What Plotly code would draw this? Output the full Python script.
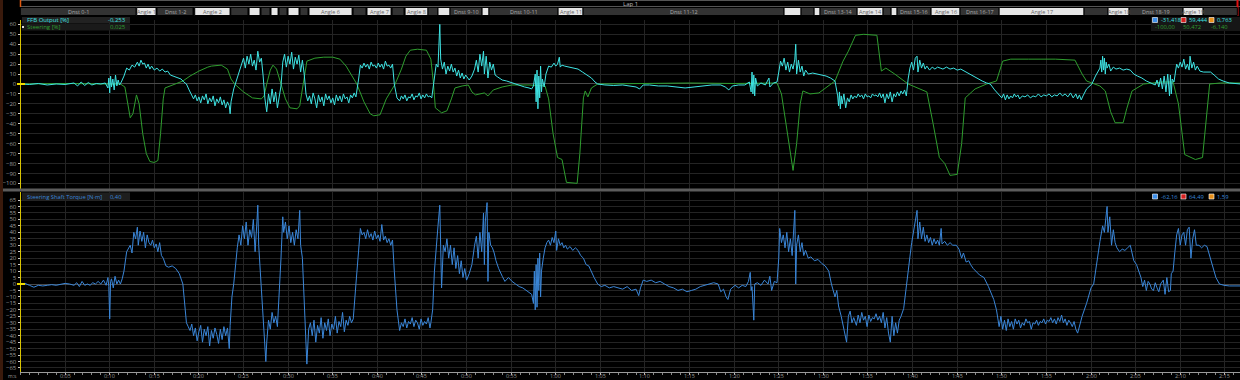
import plotly.graph_objects as go

W, H = 1240, 380

# ---------------- data ----------------
steer_t = [0, 5, 10, 11.2, 11.7, 12.0, 12.3, 12.6, 13.0, 13.3, 13.7, 14.1, 14.5, 15.0, 15.4, 15.7, 16.0, 16.2, 17.0, 18.2,
           19.0, 20.0, 21.0, 21.4, 22.5, 23.2, 23.6, 24.0, 25.0, 26.0, 27.0, 27.3, 27.6, 28.0, 28.3, 28.7, 29.2, 29.7, 30.2,
           31.0, 31.3, 31.7, 32.1, 33.0, 34.0, 35.0, 35.8, 36.5, 37.0, 37.7, 38.5, 39.2, 39.6, 40.3, 41.0, 42.0, 42.7, 43.2,
           43.7, 44.5, 45.5, 46.0, 46.3, 46.5, 47.2, 47.8, 48.3, 48.7, 49.5, 50.2, 50.6, 51.0, 52.0, 52.4, 53.0, 54.0, 55.1,
           57.0, 58.8, 59.2, 59.7, 60.2, 60.7, 61.2, 62.4, 62.7, 63.1, 63.3, 63.6, 64.0, 64.7, 70, 75, 80, 84.8, 85.3, 85.8,
           86.3, 86.6, 87.0, 87.4, 87.7, 88.5, 89.5, 90.2, 91.3, 92.2, 92.8, 93.6, 94.5, 96.0, 96.5, 97.0, 98.0, 99.5, 101.6,
           102.3, 103.0, 103.6, 104.2, 105.0, 105.5, 105.9, 107.0, 108.3, 109.4, 110.1, 111.0, 113.0, 116.0, 118.2, 119.0,
           119.5, 121.0, 121.6, 122.2, 122.7, 123.6, 124.0, 124.6, 125.9, 128.0, 129.2, 129.8, 130.5, 131.7, 132.5, 133.0,
           133.3, 134.5, 136.8]
steer_v = [0, 0.5, 0, 0, -3, -20, -34, -30, -11, -20, -50, -70, -78, -79, -77, -50, -15, -4, -1, 3,
           8, 13, 17, 18, 19, 15, 5, 0, -8, -14, -15, -12, 0, 14, 19, 15, 0, -15, -24,
           -25, -22, 0, 23, 26, 27, 27, 25, 18, 10, 0, -18, -30, -32, -31, -15, 0, 15, 28,
           34, 35, 34, 25, 0, -24, -29, -27, -15, -4, -2, -1, -8, -11, -9, -12, -6, -3, -1,
           -1, -2, -15, -50, -74, -76, -99, -100, -70, -14, -7, -13, -4, 0, 0.5, 1, 0.5, 1, -10, -40,
           -71, -87, -60, -20, -7, -10, -9, -4, 3, 23, 33, 49, 50, 49, 13, 16, 10, 0, -8,
           -40, -74, -80, -92, -91, -60, -14, -5, 0, 3, 23, 25, 25, 25, 24, 10,
           3, -2, -7, -28, -39, -39, -25, -7, 0, 2, 2, -20, -71, -76, -74, -30,
           0, 1, 1]

ffb_t = [0, 1, 2, 3, 4, 5, 6, 6.4, 6.8, 7.2, 7.6, 8.0, 8.5, 9.0, 9.5,
         9.8, 9.9, 10.0, 10.1, 10.2, 10.35, 10.5, 10.65, 10.8, 10.95, 11.1, 11.3,
         11.6, 11.9, 12.2, 12.5, 12.8, 13.1, 13.3, 13.5, 13.7, 13.9, 14.1, 14.3, 14.5, 14.7, 15.0, 15.3, 15.6, 15.9, 16.2,
         16.5, 16.8, 17.1, 17.5, 18.0, 18.3, 18.6, 18.9, 19.2, 19.4, 19.6, 19.8, 20.0, 20.2, 20.4, 20.6, 20.8, 21.0, 21.2,
         21.4, 21.6, 21.8, 22.0, 22.2, 22.4, 22.6, 22.8, 23.0, 23.2, 23.4, 23.5, 23.6,
         23.9, 24.2, 24.5, 24.8, 25.0, 25.2, 25.4, 25.6, 25.8, 26.0, 26.2, 26.4, 26.6, 26.8, 27.0, 27.2,
         27.4, 27.6, 27.8, 28.0, 28.2, 28.4, 28.6, 28.8, 29.0, 29.2,
         29.4, 29.6, 29.8, 30.0, 30.2, 30.4, 30.6, 30.8, 31.0, 31.2, 31.4, 31.6, 31.8,
         32.0, 32.2, 32.4, 32.6, 32.8, 33.0, 33.2, 33.4, 33.6, 33.8, 34.0, 34.2, 34.4, 34.6, 34.8, 35.0, 35.2, 35.4, 35.6,
         35.8, 36.0, 36.2, 36.4, 36.6, 36.8, 37.0, 37.2, 37.4, 37.6,
         37.9, 38.1, 38.3, 38.5, 38.7, 38.9, 39.1, 39.3, 39.5, 39.7, 39.9, 40.1, 40.3, 40.5, 40.7, 40.9, 41.1, 41.3, 41.5, 41.7,
         41.9, 42.2, 42.5, 42.7, 42.9, 43.1, 43.3, 43.5, 43.7, 43.9, 44.1, 44.3, 44.5, 44.7, 44.9, 45.1, 45.3, 45.5, 45.7,
         45.9, 46.1,
         46.4, 46.6, 46.8, 47.0, 47.1, 47.3, 47.5, 47.7, 47.9, 48.1, 48.3, 48.5, 48.7, 48.9, 49.1, 49.3, 49.5, 49.7, 49.9,
         50.1, 50.3,
         50.6, 50.9, 51.1, 51.3, 51.5, 51.7, 51.9, 52.0, 52.2, 52.4, 52.6, 52.8, 53.0, 53.2, 53.5, 54.0, 54.5, 55.1, 55.8,
         56.5, 57.0, 57.3,
         57.5, 57.7, 57.8, 57.9, 58.0, 58.1, 58.2, 58.3, 58.4, 58.5, 58.7, 58.9, 59.2, 59.5, 59.8, 60.0, 60.2, 60.4, 60.5,
         60.7, 61.0, 61.5, 62.0, 62.5, 63.0, 63.5, 64.0, 64.4, 64.7,
         65.5, 66.5, 67.5, 68.5, 69.0, 69.4, 69.8, 70.5, 71.5, 72.5, 73.5, 74.5, 75.5, 76.5, 77.5, 78.5, 79.0, 79.4, 79.8,
         80.5, 81.2, 81.7,
         81.9, 82.0, 82.1, 82.2, 82.3, 82.4, 82.6, 83.0, 83.5, 83.9, 84.0, 84.4, 84.8,
         85.0, 85.2, 85.4, 85.6, 85.8, 86.0, 86.2, 86.4, 86.6, 86.8, 86.9, 87.0, 87.2, 87.4, 87.6, 87.8, 88.0, 88.3, 88.8,
         89.3, 89.8, 90.3, 90.8, 91.3,
         91.6, 91.7, 91.8, 91.9, 92.0, 92.1, 92.3, 92.5, 92.7, 92.9, 93.1, 93.3, 93.5, 93.7, 93.9, 94.1, 94.3, 94.5, 94.7,
         94.9, 95.1, 95.3, 95.5, 95.7, 95.9, 96.1, 96.3, 96.5, 96.7, 96.9, 97.1, 97.3, 97.5, 97.7, 97.9, 98.1, 98.3, 98.5,
         98.7, 98.9, 99.1, 99.3,
         99.5, 99.7, 99.9, 100.1, 100.3, 100.5, 100.6, 100.8, 101.0, 101.2, 101.4, 101.6, 101.9, 102.2, 102.5, 102.8, 103.1,
         103.4, 103.8, 104.2, 104.6, 105.0, 105.4, 105.8, 106.3, 106.8, 107.3, 107.8, 108.3, 108.7, 109.2, 109.6, 109.8,
         110.0, 110.2, 110.4, 110.6, 110.8, 111.0, 111.2, 111.4, 111.6, 111.8, 112.0, 112.3, 112.6, 112.9, 113.2, 113.5,
         113.8, 114.1, 114.4, 114.7, 115.0, 115.3, 115.6, 115.9, 116.2, 116.5, 116.8, 117.1, 117.4, 117.7, 118.0, 118.3,
         118.5, 118.7, 118.9, 119.1,
         119.5, 120.1, 120.5, 121.0, 121.1, 121.2, 121.3, 121.4, 121.5, 121.6, 121.7, 121.8, 122.0, 122.2, 122.5, 122.8,
         123.2, 123.6, 124.0, 124.4, 124.8, 125.2, 125.7, 126.2, 126.8, 127.2,
         127.4, 127.6, 127.8, 128.0, 128.2, 128.4, 128.6, 128.8, 128.9, 129.0, 129.1, 129.3,
         129.6, 129.8, 130.0, 130.2, 130.4, 130.6, 130.8, 131.0, 131.1, 131.3, 131.5, 131.7, 131.9, 132.2, 132.6, 133.0,
         133.4, 133.8, 134.3, 134.8, 135.5, 136.8]
ffb_v = [0, -0.5, 0.5, -1, 0, -0.5, 1, -2, 2, -1.5, 1.5, -1, 0.5, 0, 1,
         -4, 6, -9, 8, -3, 5, -6, 9, -2, 4, -1, 2,
         8, 16, 14, 19, 17, 22, 18, 24, 20, 21, 16, 20, 15, 18, 14, 16, 13, 15, 12,
         13, 9, 8, 7, 5, 2, 0, -6, -12, -15, -11, -17, -13, -19, -12, -16, -10, -20, -14,
         -18, -12, -22, -15, -19, -13, -21, -16, -24, -18, -22, -30, -18,
         -5, 3, 12, 19, 26, 16, 28, 20, 30, 18, 24, 14, 33, 22, 26, 8,
         -15, -28, -10, -20, -5, -18, -8, -24, -12, -2,
         22, 30, 17, 28, 20, 32, 15, 27, 20, 29, 12, 24, 10,
         -10, -17, -12, -20, -9, -15, -24, -11, -18, -13, -22, -10, -16, -12, -19, -14, -21, -11, -17,
         -12, -18, -10, -15, -13, -19, -11, -14, -9, -13,
         5, 19, 16, 21, 17, 20, 15, 22, 18, 19, 16, 21, 17, 20, 15, 23, 18, 19, 16, 20,
         0, -14, -17, -12, -15, -11, -17, -13, -14, -10, -16, -12, -13, -9, -15, -11, -14, -10, -13,
         -12, -14,
         5, 20, 17, 60, 25, 15, 22, 10, 18, 13, 20, 12, 16, 8, 14, 6, 11, 5, 9,
         7, 4,
         8, 15, 24, 12, 30, 18, 33, 10, 28, 6, 22, 14, 20, 9, 7, 4, 3, 1, -1,
         -3, -4, -5,
         -2, 10, -18, 14, -25, 8, -14, 18, -8, 5, -3, 10, 18, 17, 21, 18, 20, 27, 17,
         19, 18, 17, 16, 15, 12, 9, 6, 2, 0,
         -1, -1.5, -1, -2, -3, -5, -1, -1, -2, -2, -3, -4, -3, -2, -1, -1, -3, -6, -2,
         -1, -1, 2,
         -8, 12, -10, 9, -12, 6, -2, 1, -1, 6, -3, 1, 2,
         12, 23, 18, 26, 14, 22, 12, 20, 15, 25, 40, 10, 24, 12, 18, 8, 14, 10, 11,
         10, 9, 8, 6, 3,
         -12, -22, -8, -25, -12, -20, -10, -24, -14, -18, -11, -15, -12, -14, -10, -13, -11, -15, -10,
         -13, -12, -14, -10, -12, -11, -13, -9, -14, -10, -19, -10, -15, -8, -18, -10, -13, -8, -12,
         -7, -10, -6, -12,
         5, 16, 22, 14, 26, 28, 12, 24, 16, 21, 15, 18, 14, 17, 15, 17, 16,
         15, 17, 15, 16, 14, 15, 13, 10, 8, 5, 3, 1, 0, -6, -10, -12,
         -14, -10, -16, -11, -15, -12, -14, -10, -13, -11, -15, -12, -13, -11, -14, -12,
         -13, -10, -13, -11, -12, -10, -13, -11, -12, -9, -12, -10, -13, -9, -14, -10,
         -15, -11, -16, -12,
         -5, 0, 8, 16, 24, 12, 28, 14, 26, 10, 22, 16, 20, 13, 17, 15,
         16, 14, 15, 14, 10, 8, 6, 3, 1, -1,
         4, -3, 6, -5, 8, -8, 10, -12, 9, -10, 5, 2,
         20, 16, 22, 17, 25, 15, 20, 14, 28, 16, 22, 14, 18, 13, 12, 12,
         12, 9, 5, 3, 1, 0]

torque_t = [0, 0.5, 1.0, 1.5, 2.0, 2.5, 3.0, 3.5, 4.0, 4.5, 5.0, 5.5, 6.0, 6.3, 6.6, 6.9, 7.2, 7.5, 7.8, 8.1, 8.4, 8.7,
            9.0, 9.3, 9.6, 9.8, 9.9, 10.0, 10.1, 10.2, 10.4, 10.6, 10.8, 11.0, 11.2, 11.4, 11.6, 11.9, 12.1, 12.3, 12.5,
            12.7, 12.9, 13.1, 13.2, 13.4, 13.6, 13.8, 14.0, 14.2, 14.4, 14.6, 14.8, 15.0, 15.2, 15.4, 15.6, 15.8, 16.0,
            16.3, 16.6, 17.0, 17.4, 17.8, 18.2, 18.4, 18.6, 18.8, 19.0, 19.2, 19.4, 19.6, 19.8, 20.0, 20.2, 20.4, 20.6,
            20.8, 21.0, 21.2, 21.4, 21.6, 21.8, 22.0, 22.2, 22.4, 22.6, 22.8, 23.0, 23.2, 23.4, 23.5,
            23.7, 23.9, 24.1, 24.3, 24.5, 24.7, 24.9, 25.1, 25.3, 25.5, 25.7, 25.9, 26.1, 26.3, 26.5, 26.6, 26.7, 26.9,
            27.1, 27.3, 27.5, 27.6, 27.8, 28.0, 28.2, 28.4, 28.6, 28.8, 29.0, 29.2, 29.4, 29.5, 29.7, 29.9, 30.1, 30.3,
            30.5, 30.7, 30.9, 31.1, 31.3, 31.4, 31.6, 31.8, 32.0, 32.1, 32.3, 32.5, 32.7, 32.9, 33.1, 33.3, 33.5, 33.7,
            33.9, 34.1, 34.3, 34.5, 34.7, 34.9, 35.1, 35.3, 35.5, 35.7, 35.9, 36.1, 36.3, 36.5, 36.7, 36.9, 37.1, 37.3,
            37.6, 37.9, 38.1, 38.3, 38.5, 38.7, 38.9, 39.1, 39.3, 39.5, 39.7, 39.9, 40.1, 40.3, 40.5, 40.7, 40.9, 41.1,
            41.3, 41.5, 41.7, 41.9, 42.2, 42.5, 42.7, 42.9, 43.1, 43.3, 43.5, 43.7, 43.9, 44.1, 44.3, 44.5, 44.7, 44.9,
            45.1, 45.3, 45.5, 45.7, 45.9, 46.0,
            46.2, 46.4, 46.6, 46.8, 47.0, 47.1, 47.2, 47.4, 47.6, 47.8, 48.0, 48.2, 48.4, 48.6, 48.8, 49.0, 49.2, 49.4,
            49.6, 49.8, 50.0, 50.3, 50.6, 50.9, 51.1, 51.3, 51.5, 51.7, 51.9, 52.0, 52.1, 52.3, 52.4, 52.5, 52.7, 52.9,
            53.1, 53.3, 53.6, 54.0, 54.3, 54.7, 55.1, 55.5, 55.9, 56.3, 56.7, 57.0, 57.3,
            57.5, 57.6, 57.7, 57.8, 57.9, 58.0, 58.1, 58.2, 58.3, 58.4, 58.6, 58.8, 59.0, 59.2, 59.4, 59.6, 59.8, 60.0,
            60.1, 60.3, 60.5, 60.7, 60.9, 61.1, 61.3, 61.6, 61.9, 62.2, 62.5, 62.8, 63.1, 63.4, 63.7, 64.0, 64.3, 64.7,
            65.1, 65.5, 66.0, 66.5, 67.0, 67.5, 68.0, 68.5, 69.0, 69.3, 69.5, 69.8, 70.2, 70.7, 71.2, 71.7, 72.2, 72.7,
            73.2, 73.7, 74.2, 74.7, 75.2, 75.7, 76.2, 76.7, 77.2, 77.7, 78.2, 78.5, 78.8, 79.1, 79.3, 79.6, 80.1, 80.5,
            80.9, 81.3, 81.6, 81.8, 81.9, 82.0, 82.2, 82.3, 82.6, 83.0, 83.4, 83.8, 84.0, 84.2, 84.5, 84.8,
            85.0, 85.1, 85.3, 85.5, 85.7, 85.9, 86.1, 86.3, 86.5, 86.7, 86.8, 86.9, 87.0, 87.2, 87.4, 87.6, 87.8, 88.0,
            88.3, 88.6, 89.0, 89.4, 89.8, 90.2, 90.6, 90.9, 91.3,
            91.5, 91.7, 92.0, 92.3, 92.6, 92.8, 93.0, 93.2, 93.4, 93.7, 93.9, 94.1, 94.3, 94.5, 94.7, 94.9, 95.1, 95.3,
            95.5, 95.7, 95.9, 96.1, 96.3, 96.5, 96.7, 96.9, 97.1, 97.3, 97.5, 97.7, 97.9, 98.1, 98.3, 98.5, 98.7, 99.0,
            99.3, 99.5, 99.7, 99.9, 100.1, 100.3, 100.5, 100.6, 100.8, 101.0, 101.2, 101.4, 101.6, 101.8, 102.0, 102.2,
            102.4, 102.6, 102.8, 103.0, 103.2, 103.3, 103.6, 103.9, 104.2, 104.5, 104.9, 105.2, 105.5, 105.7, 106.0,
            106.3, 106.5, 106.8, 107.1, 107.5, 108.0, 108.5, 109.1, 109.4, 109.7, 109.9, 110.1, 110.3, 110.5, 110.7,
            110.9, 111.1, 111.3, 111.5, 111.7, 111.9, 112.1, 112.3, 112.5, 112.7, 112.9, 113.1, 113.3, 113.5, 113.7,
            113.9, 114.1, 114.3, 114.5, 114.7, 114.9, 115.1, 115.3, 115.5, 115.7, 115.9, 116.1, 116.3, 116.5, 116.7,
            116.9, 117.1, 117.3, 117.5, 117.7, 117.9, 118.1, 118.3, 118.5, 118.7, 119.0, 119.5, 120.0, 120.3, 120.6,
            121.0, 121.3, 121.5, 121.8, 121.9, 122.1, 122.3, 122.5, 122.7, 122.9, 123.2, 123.5, 123.8, 124.1, 124.4,
            124.6, 124.8, 125.1, 125.4, 125.6, 125.8, 126.0, 126.2, 126.4, 126.6, 126.8, 127.0, 127.2, 127.4, 127.6,
            127.8, 128.1, 128.3, 128.5, 128.7, 128.9, 129.0, 129.2, 129.4, 129.6, 129.8, 130.0, 130.2, 130.4, 130.6,
            130.8, 131.0, 131.2, 131.4, 131.6, 131.8, 132.1, 132.4, 132.7, 133.0, 133.2, 133.4, 133.7, 134.0, 134.4,
            134.9, 135.5, 136.8]
torque_v = [0, 0.5, -1, -2.5, -1, -1.5, -1, -0.5, -1, 0, 0.5, 0, -1, 1, -2, 2, -1, 0, -1, 1, 0, 2,
            0, 3, -1, 5, -2, -27, 2, 4, -3, 6, 0, 3, 0, 4, 10, 25, 28, 30, 24,
            40, 35, 44, 30, 41, 33, 40, 28, 38, 32, 30, 34, 28, 31, 25, 32, 22, 20,
            14, 13, 14, 12, 8, 0, -15, -30, -33, -36, -31, -40, -34, -44, -37, -32, -45, -35,
            -40, -33, -48, -36, -42, -34, -39, -46, -35, -43, -33, -40, -34, -50, -32,
            -10, 0, 15, 28, 38, 30, 45, 35, 48, 30, 42, 36, 50, 25, 48, 61, 30, 5,
            -20, -38, -60, -45, -28, -35, -22, -30, -25, -33, -10, 20, 52, 40, 48, 35, 45, 32,
            40, 30, 42, 35, 57, 30, 20, -10, -45, -62, -35, -30, -40, -28, -45, -32, -38, -26,
            -42, -30, -36, -27, -40, -31, -35, -25, -38, -29, -33, -22, -37, -28, -32, -25, -30, -27,
            0, 30, 43, 38, 40, 35, 42, 36, 39, 34, 41, 35, 38, 33, 46, 34, 37, 32,
            35, 30, 34, 10, -20, -36, -30, -33, -27, -34, -29, -31, -26, -33, -28, -30, -35, -27,
            -32, -29, -31, -26, -34, -30,
            -20, 10, 30, 45, 61, 35, -3, 30, 25, 35, 20, 30, 15, 28, 12, 22, 8, 18,
            5, 12, 3, 8, 15, 30, 37, 20, 40, 25, 55, 15, 48, 63, 2, 40, 30, 28,
            24, 18, 12, 6, 2, 5, 2, 0, -2, -3, -5, -6, -8,
            -15, 10, -20, 15, -18, 20, -5, 24, -10, 10, 20, 28, 32, 34, 30, 36, 32, 41,
            26, 35, 30, 32, 28, 30, 27, 29, 26, 28, 26, 22, 20, 15, 14, 9, 5, 0,
            -2, -1, -3, -2, -3, -4, -2, -5, -4, -9, -3, 3, 2, 3, 1, 2, 0, -2,
            -3, -5, -4, -6, -5, -4, -2, -1, 0, 1, 0, -6, -4, -10, -12, -4, -1, -3,
            -1, -2, 2, 9, -5, -2, -28, 0, 1, -1, 3, 0, 6, -5, 2, 1,
            20, 43, 32, 38, 28, 40, 25, 35, 22, 45, 57, 0, 30, 38, 25, 32, 22, 26,
            20, 21, 18, 19, 16, 14, 10, 0, -10,
            -5, -17, -25, -35, -45, -25, -21, -30, -26, -32, -24, -30, -22, -28, -25, -33, -24, -29,
            -26, -27, -23, -28, -25, -30, -22, -34, -26, -38, -45, -25, -40, -30, -38, -28, -25, -19,
            0, 10, 21, 32, 40, 50, 57, 35, 48, 35, 44, 33, 38, 32, 36, 30,
            35, 31, 34, 30, 43, 31, 33, 30, 32, 30, 30, 27, 20, 24, 17,
            18, 15, 12, 10, 7, 5, -2, -12, -20, -33, -25, -35, -28, -36, -27,
            -33, -29, -35, -27, -31, -28, -34, -30, -32, -27, -30, -29, -35, -30, -31,
            -28, -32, -29, -30, -27, -31, -28, -29, -26, -30, -27, -31, -26, -29, -24,
            -30, -27, -32, -28, -30, -33, -29, -35, -38, -33, -25, -15, -3, 0, 15,
            33, 45, 40, 60, 40, 52, 30, 42, 32, 28, 25, 27, 26, 28, 30,
            24, 18, 15, 8, 5, -2, 3, -5, 2, 0, -4, -5, 1, -3, -6,
            0, 3, -8, 5, -6, -5, 8, 10, 25, 38, 43, 30, 38, 40, 30,
            42, 44, 20, 35, 42, 30, 30, 28, 30, 29, 24, 18, 12, 5, 0,
            -1, -1.5, -1.5]

# lap segments (time in s)
seg_start = [0.0, 13.03, 15.30, 19.53, 23.57, 25.62, 26.96, 28.08, 28.98, 29.99, 31.33, 32.34, 37.28, 38.84, 41.65,
             43.11, 45.68, 46.80, 48.15, 51.74, 52.52, 60.26, 63.06, 85.59, 87.50, 88.96, 89.63, 93.78, 96.69, 97.59,
             98.26, 102.07, 105.32, 109.70, 119.22, 121.91, 124.27, 130.32, 132.57]
seg_end = [12.95, 15.19, 19.34, 23.49, 25.50, 26.85, 27.97, 28.87, 29.88, 31.22, 32.23, 37.17, 38.73, 41.54, 42.99,
           45.68, 46.80, 48.15, 51.74, 52.52, 60.26, 63.06, 85.59, 87.50, 88.96, 89.63, 93.78, 96.69, 97.59, 98.26,
           102.07, 105.32, 109.70, 119.22, 121.91, 124.27, 130.32, 132.57, 136.4]
seg_kind = ["S", "C", "S", "C", "S", "C", "S", "C", "S", "C", "S", "C", "S", "C", "S",
            "C", "S", "C", "S", "C", "S", "C", "S", "C", "S", "C", "S", "C", "S", "C",
            "S", "C", "S", "C", "S", "C", "S", "C", "S"]
seg_label = ["Dnst 0-1", "Angle 1", "Dnst 1-2", "Angle 2", "", "", "", "", "", "", "", "Angle 6", "", "Angle 7", "",
             "Angle 8", "", "", "Dnst 9-10", "", "Dnst 10-11", "Angle 11", "Dnst 11-12", "", "", "", "Dnst 13-14",
             "Angle 14", "", "", "Dnst 15-16", "Angle 16", "Dnst 16-17", "Angle 17", "", "Angle 18", "Dnst 18-19",
             "Angle 19", ""]

x_tick_vals = [5, 10, 15, 20, 25, 30, 35, 40, 45, 50, 55, 60, 65, 70, 75, 80, 85, 90, 95, 100, 105, 110, 115, 120,
               125, 130, 135]
x_tick_text = ["0:05", "0:10", "0:15", "0:20", "0:25", "0:30", "0:35", "0:40", "0:45", "0:50", "0:55", "1:00",
               "1:05", "1:10", "1:15", "1:20", "1:25", "1:30", "1:35", "1:40", "1:45", "1:50", "1:55", "2:00",
               "2:05", "2:10", "2:15"]
top_ticks = [-100, -90, -80, -70, -60, -50, -40, -30, -20, -10, 0, 10, 20, 30, 40, 50, 60]
bot_ticks = [-65, -60, -55, -50, -45, -40, -35, -30, -25, -20, -15, -10, -5, 0, 5, 10, 15, 20, 25, 30, 35, 40, 45,
             50, 55, 60, 65]

# ---------------- helpers (pixel -> paper) ----------------
def px(x):
    return x / W


def py(y):
    return 1 - y / H


X0 = 20.5
FONT = "Open Sans"
CYAN = "#3fe4e4"
GREEN = "#2f9e2f"
BLUE = "#3a86d8"
GRID = "#242424"

fig = go.Figure()
fig.add_trace(go.Scatter(x=steer_t, y=steer_v, mode="lines", line=dict(color=GREEN, width=1),
                         xaxis="x2", yaxis="y", hoverinfo="skip", showlegend=False))
fig.add_trace(go.Scatter(x=ffb_t, y=ffb_v, mode="lines", line=dict(color=CYAN, width=1),
                         xaxis="x2", yaxis="y", hoverinfo="skip", showlegend=False))
fig.add_trace(go.Scatter(x=torque_t, y=torque_v, mode="lines", line=dict(color=BLUE, width=1),
                         xaxis="x", yaxis="y2", hoverinfo="skip", showlegend=False))

xr = [0, 136.7]
tickfont = dict(family=FONT, size=6, color="#9a9a9a")

fig.update_layout(
    width=W, height=H, margin=dict(l=0, r=0, t=0, b=0),
    paper_bgcolor="#000000", plot_bgcolor="#000000",
    showlegend=False,
    xaxis=dict(domain=[px(X0), 1], range=xr, anchor="y2", tickvals=x_tick_vals, showticklabels=False,
               ticks="outside", ticklen=2, tickcolor="#bbbbbb", showline=True,
               linecolor="#9a9a9a", linewidth=1, showgrid=True, gridcolor=GRID, zeroline=False,
               minor=dict(dtick=1, ticks="outside", ticklen=2, tickcolor="#888888", showgrid=False),
               automargin=False, fixedrange=True),
    xaxis2=dict(domain=[px(X0), 1], range=xr, anchor="y", tickvals=x_tick_vals, showticklabels=False,
                showgrid=True, gridcolor=GRID, zeroline=False, showline=False, ticks="", automargin=False),
    yaxis=dict(domain=[py(190), py(20)], range=[-106.7, 64.4], anchor="x2", tickvals=top_ticks,
               tickfont=tickfont, ticks="outside", ticklen=2, tickcolor="#cccccc", showline=True,
               linecolor="#d8c400", linewidth=1, showgrid=True, gridcolor=GRID, zeroline=True,
               zerolinecolor="#4a4a4a", zerolinewidth=1, automargin=False),
    yaxis2=dict(domain=[py(372), py(192)], range=[-68.1, 71.2], anchor="x", tickvals=bot_ticks,
                tickfont=tickfont, ticks="outside", ticklen=2, tickcolor="#cccccc", showline=True,
                linecolor="#d8c400", linewidth=1, showgrid=True, gridcolor=GRID, zeroline=True,
                zerolinecolor="#4a4a4a", zerolinewidth=1, automargin=False),
)

shapes = []
annotations = []

# x tick labels as text just under the axis
for tv, tt in zip(x_tick_vals, x_tick_text):
    annotations.append(dict(x=tv, y=py(376.3), xref="x", yref="paper", text=tt, showarrow=False,
                            font=dict(family=FONT, size=5.5, color="#9a9a9a"), xanchor="center",
                            yanchor="middle"))

# left brown strip
shapes.append(dict(type="rect", xref="paper", yref="paper", x0=0, x1=px(3), y0=0, y1=1,
                   fillcolor="#3a1a0c", line=dict(width=0), layer="above"))
# lap bar borders
shapes.append(dict(type="line", xref="paper", yref="paper", x0=px(20), x1=1, y0=py(0.5), y1=py(0.5),
                   line=dict(color="#555555", width=1)))
shapes.append(dict(type="line", xref="paper", yref="paper", x0=px(20), x1=1, y0=py(6.5), y1=py(6.5),
                   line=dict(color="#555555", width=1)))
shapes.append(dict(type="line", xref="paper", yref="paper", x0=px(20.5), x1=px(20.5), y0=py(0), y1=py(7),
                   line=dict(color="#e05a10", width=1.5)))
shapes.append(dict(type="line", xref="paper", yref="paper", x0=px(1237.5), x1=px(1237.5), y0=py(0), y1=py(16),
                   line=dict(color="#e01010", width=2)))
annotations.append(dict(x=px(630), y=py(3.6), xref="paper", yref="paper", text="Lap 1", showarrow=False,
                        font=dict(family=FONT, size=6, color="#bbbbbb"), xanchor="center", yanchor="middle"))

# segment bar
for s, e, k, lab in zip(seg_start, seg_end, seg_kind, seg_label):
    fill = "#e6e6e6" if k == "C" else "#333333"
    shapes.append(dict(type="rect", xref="x", yref="paper", x0=s, x1=e, y0=py(15.5), y1=py(7.5),
                       fillcolor=fill, line=dict(color="#000000", width=1), layer="above"))
    if lab:
        annotations.append(dict(x=(s + e) / 2, y=py(11.5), xref="x", yref="paper", text=lab, showarrow=False,
                                font=dict(family=FONT, size=5.5, color="#666666" if k == "C" else "#aaaaaa"),
                                xanchor="center", yanchor="middle"))

# panel separator
shapes.append(dict(type="rect", xref="paper", yref="paper", x0=px(3), x1=1, y0=py(191.5), y1=py(188.5),
                   fillcolor="#5c5c5c", line=dict(width=0), layer="above"))

# yellow zero markers
for yv in (84, 284):
    shapes.append(dict(type="line", xref="paper", yref="paper", x0=px(17), x1=px(25), y0=py(yv), y1=py(yv),
                       line=dict(color="#f0dc00", width=2), layer="above"))


def box(x0, x1, y0, y1, color="#1c1c1c"):
    shapes.append(dict(type="rect", xref="paper", yref="paper", x0=px(x0), x1=px(x1), y0=py(y1), y1=py(y0),
                       fillcolor=color, line=dict(width=0), layer="above"))


def text(x, y, s, color, anchor="left", size=6):
    annotations.append(dict(x=px(x), y=py(y), xref="paper", yref="paper", text=s, showarrow=False,
                            font=dict(family=FONT, size=size, color=color), xanchor=anchor, yanchor="middle"))


box(22, 130, 17, 23.5, "#222222")
box(22, 130, 24, 30.5, "#1a1a1a")
text(25, 20.2, "FFB Output [%]", CYAN)
text(128, 20.2, "-0,253", CYAN, "right")
text(25, 27.2, "Steering [%]", GREEN)
text(128, 27.2, "0,025", GREEN, "right")
shapes.append(dict(type="rect", xref="paper", yref="paper", x0=px(22), x1=px(24), y0=py(28), y1=py(26),
                   fillcolor="#dddddd", line=dict(width=0), layer="above"))

box(1151, 1240, 17, 31, "#161616")
icon_x = [1152.5, 1181, 1209]
icon_c = ["#3d8ee8", "#d42020", "#e8901a"]
for ix, ic in zip(icon_x, icon_c):
    shapes.append(dict(type="rect", xref="paper", yref="paper", x0=px(ix), x1=px(ix + 5), y0=py(22.5), y1=py(17.5),
                       fillcolor=ic, line=dict(color="#ffffff", width=0.6), layer="above"))
    shapes.append(dict(type="rect", xref="paper", yref="paper", x0=px(ix), x1=px(ix + 5), y0=py(196.5 + 2.5),
                       y1=py(196.5 - 2.5), fillcolor=ic, line=dict(color="#ffffff", width=0.6), layer="above"))
text(1158.5, 20.2, "-31,418", CYAN, size=5.8)
text(1187, 20.2, "59,444", CYAN, size=5.8)
text(1215, 20.2, "0,763", CYAN, size=5.8)
text(1178, 27.2, "-100,00", GREEN, "right", size=5.8)
text(1203, 27.2, "50,472", GREEN, "right", size=5.8)
text(1230, 27.2, "-6,140", GREEN, "right", size=5.8)

box(22, 130, 192.5, 200, "#1e1e1e")
text(25, 196.5, "Steering Shaft Torque [N·m]", BLUE, size=5.8)
text(124, 196.5, "0,40", BLUE, "right", size=5.8)
text(1158.5, 196.5, "-62,16", BLUE, size=5.8)
text(1187, 196.5, "64,49", BLUE, size=5.8)
text(1215, 196.5, "1,59", BLUE, size=5.8)

text(6, 376.3, "m:s", "#9a9a9a", "left", 5)

fig.update_layout(shapes=shapes, annotations=annotations)
fig.write_html("out.html")
